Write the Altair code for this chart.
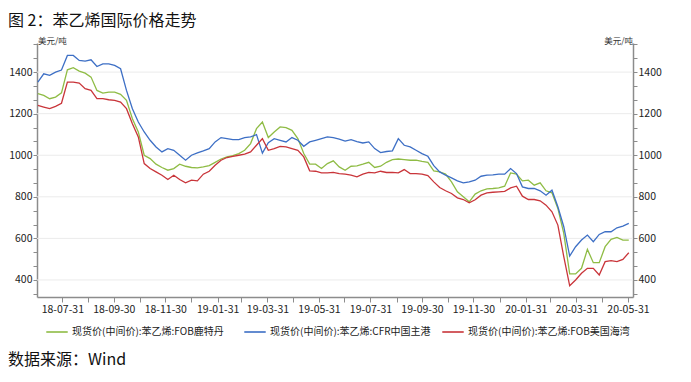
import altair as alt
import pandas as pd

# ---------------- data (weekly from 2018-07-02) ----------------
series_names = [
    "现货价(中间价):苯乙烯:FOB鹿特丹",
    "现货价(中间价):苯乙烯:CFR中国主港",
    "现货价(中间价):苯乙烯:FOB美国海湾",
]
series_colors = ["#8FBC45", "#3D6FC5", "#C9353A"]

rotterdam = [1296, 1288, 1272, 1280, 1300, 1411, 1421, 1405, 1395, 1376,
             1312, 1299, 1304, 1304, 1293, 1264, 1176, 1112, 1000, 984,
             957, 941, 928, 936, 957, 947, 941, 939, 944, 950,
             966, 982, 992, 998, 1008, 1024, 1056, 1128, 1160, 1085,
             1112, 1136, 1133, 1120, 1080, 1008, 957, 957, 936, 960,
             973, 944, 928, 947, 949, 957, 966, 941, 947, 966,
             979, 982, 979, 976, 976, 970, 966, 925, 920, 909,
             872, 824, 800, 776, 813, 829, 838, 840, 843, 851,
             915, 909, 877, 880, 856, 867, 829, 819, 744, 624,
             429, 429, 456, 547, 483, 483, 560, 595, 605, 592,
             592]

china = [1352, 1392, 1384, 1400, 1410, 1480, 1480, 1456, 1453, 1459,
         1427, 1440, 1440, 1432, 1416, 1312, 1224, 1160, 1112, 1072,
         1040, 1016, 1032, 1024, 1000, 976, 1000, 1011, 1021, 1032,
         1064, 1085, 1080, 1075, 1075, 1085, 1088, 1099, 1010, 1060,
         1080, 1072, 1064, 1085, 1072, 1043, 1064, 1072, 1080, 1088,
         1085, 1078, 1068, 1075, 1066, 1059, 1064, 1032, 1013, 1018,
         1021, 1080, 1048, 1040, 1024, 1008, 995, 950, 920, 904,
         891, 877, 867, 872, 880, 899, 904, 906, 909, 909,
         936, 912, 848, 840, 840, 829, 808, 832, 752, 656,
         515, 560, 592, 616, 584, 619, 632, 632, 651, 659,
         672]

usgulf = [1240, 1232, 1224, 1235, 1250, 1352, 1352, 1347, 1320, 1312,
          1272, 1272, 1267, 1264, 1256, 1224, 1152, 1088, 960, 936,
          920, 904, 883, 904, 883, 867, 880, 877, 909, 923,
          952, 976, 989, 995, 1000, 1005, 1016, 1048, 1080, 1024,
          1032, 1043, 1040, 1032, 1024, 992, 925, 923, 915, 915,
          918, 912, 909, 904, 896, 909, 918, 915, 923, 917,
          918, 915, 931, 912, 912, 909, 902, 872, 845, 829,
          816, 795, 787, 771, 786, 808, 819, 822, 824, 826,
          843, 851, 803, 787, 787, 781, 760, 728, 664, 512,
          372, 400, 432, 456, 456, 424, 488, 493, 488, 499,
          531]

week_dates = pd.date_range("2018-07-02", periods=len(china), freq="7D").strftime("%Y-%m-%d")

month_ends = [(2018, 7, 31), (2018, 8, 31), (2018, 9, 30), (2018, 10, 31), (2018, 11, 30),
              (2018, 12, 31), (2019, 1, 31), (2019, 2, 28), (2019, 3, 31), (2019, 4, 30),
              (2019, 5, 31), (2019, 6, 30), (2019, 7, 31), (2019, 8, 31), (2019, 9, 30),
              (2019, 10, 31), (2019, 11, 30), (2019, 12, 31), (2020, 1, 31), (2020, 2, 29),
              (2020, 3, 31), (2020, 4, 30), (2020, 5, 31)]

grid_values = [400, 600, 800, 1000, 1200, 1400]
y_ticks = [400 + k * 200 / 3 for k in range(-1, 18)]
y_domain = [318, 1540]

title_text = "图 2：苯乙烯国际价格走势"
footer_text = "数据来源：Wind"
unit_text = "美元/吨"

FONT = "Noto Sans CJK SC"

# ---------------- build table ----------------
rows = []
for name, vals in zip(series_names, [rotterdam, china, usgulf]):
    for d, v in zip(week_dates, vals):
        rows.append({"date": d, "value": v, "series": name})
df = pd.DataFrame(rows)

x_scale = alt.Scale(type="utc",
                    domain=[alt.DateTime(year=2018, month=7, date=1, utc=True),
                            alt.DateTime(year=2020, month=6, date=6, utc=True)])
y_scale = alt.Scale(domain=y_domain, nice=False, zero=False)

y_label_expr = "round(datum.value) % 200 == 0 ? format(round(datum.value), 'd') : ''"

axis_common = dict(
    values=y_ticks, labelExpr=y_label_expr, grid=False,
    domainColor="#8c8c8c", domainWidth=1.5, tickColor="#8c8c8c", tickSize=4,
    labelFont=FONT, labelFontSize=10.5, labelColor="#222222", labelPadding=1,
    labelOverlap=False,
)

grid = alt.Chart(pd.DataFrame({"g": grid_values})).mark_rule(
    color="#EBEBEB", strokeWidth=1
).encode(
    y=alt.Y("g:Q", scale=y_scale, title=None, axis=alt.Axis(orient="right", **axis_common))
)

lines = alt.Chart(df).mark_line(strokeWidth=1.3).encode(
    x=alt.X("date:T", scale=x_scale, title=None,
            axis=alt.Axis(
                values=[alt.DateTime(year=y, month=m, date=d, utc=True) for (y, m, d) in month_ends],
                labelExpr="utcmonth(datum.value) % 2 == 0 ? utcFormat(datum.value, '%y-%m-%d') : ''",
                labelOverlap=False, labelFlush=False, grid=False,
                domainColor="#8c8c8c", domainWidth=1.5, tickColor="#8c8c8c", tickSize=5,
                labelFont=FONT, labelFontSize=10.5, labelColor="#222222", labelPadding=2,
            )),
    y=alt.Y("value:Q", scale=y_scale, title=None, axis=alt.Axis(orient="left", **axis_common)),
    color=alt.Color("series:N",
                    scale=alt.Scale(domain=series_names, range=series_colors),
                    sort=series_names,
                    legend=alt.Legend(
                        title=None, orient="none", legendX=8, legendY=277,
                        direction="horizontal", symbolType="stroke", symbolSize=460,
                        symbolStrokeWidth=1.6, labelFont=FONT, labelFontSize=10,
                        labelColor="#222222", labelOffset=3, columnPadding=7,
                        labelLimit=0, gridAlign="all",
                    )),
)

title = alt.Chart(pd.DataFrame({"t": [title_text]})).mark_text(
    align="left", baseline="middle", font=FONT, fontSize=16, color="#111111"
).encode(x=alt.value(-29), y=alt.value(-22), text="t:N")

footer = alt.Chart(pd.DataFrame({"t": [footer_text]})).mark_text(
    align="left", baseline="middle", font=FONT, fontSize=16, color="#111111"
).encode(x=alt.value(-29), y=alt.value(317), text="t:N")

unit_left = alt.Chart(pd.DataFrame({"t": [unit_text]})).mark_text(
    align="left", baseline="middle", font=FONT, fontSize=8.5, color="#333333"
).encode(x=alt.value(1), y=alt.value(-2), text="t:N")

unit_right = alt.Chart(pd.DataFrame({"t": [unit_text]})).mark_text(
    align="right", baseline="middle", font=FONT, fontSize=8.5, color="#333333"
).encode(x=alt.value(596), y=alt.value(-2), text="t:N")

chart = alt.layer(grid, lines, title, footer, unit_left, unit_right).resolve_scale(
    y="shared"
).resolve_axis(
    y="independent"
).properties(
    width=596, height=254,
    autosize=alt.AutoSizeParams(type="none"),
    padding={"left": 29, "top": 35, "right": 50, "bottom": 73},
    background="white",
).configure_view(stroke=None)

chart.save("out.html", embed_options={"renderer": "svg", "actions": False})
